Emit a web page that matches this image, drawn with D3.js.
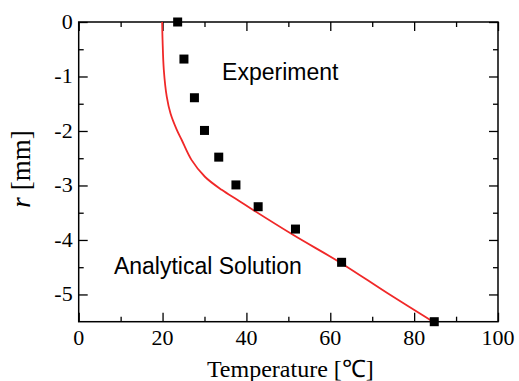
<!DOCTYPE html>
<html>
<head>
<meta charset="utf-8">
<script src="https://cdn.jsdelivr.net/npm/d3@7"></script>
<style>
  body { margin: 0; background: #fff; }
  .tick-label { font-family: 'Liberation Serif', 'Times New Roman', serif; font-size: 22px; }
  .note { font-family: 'Liberation Sans', Arial, sans-serif; font-size: 23px; }
</style>
</head>
<body>
<div id="chart"></div>
<script>
// experiment points
let expTemp = [23.6, 25.1, 27.6, 30.0, 33.4, 37.5, 42.8, 51.7, 62.7, 84.8]
let expR = [0, -0.68, -1.39, -1.99, -2.48, -2.99, -3.39, -3.8, -4.41, -5.5]

// analytical solution
let anaTemp = [19.9, 20.0, 20.3, 21.0, 21.9, 23.4, 24.6, 26.9, 30.1, 34.1, 38.0, 41.6, 51.2, 62.7, 73.5, 84.5]
let anaR = [0, -0.33, -0.88, -1.37, -1.68, -1.98, -2.17, -2.53, -2.84, -3.08, -3.27, -3.45, -3.91, -4.43, -4.97, -5.5]

let xTicks = [0, 20, 40, 60, 80, 100]
let yTicks = [0, -1, -2, -3, -4, -5]

let margin = { top: 22, left: 78.7, right: 21, bottom: 59.3 }
let width = 519 - margin.left - margin.right
let height = 381 - margin.top - margin.bottom

let svg = d3
  .select('#chart')
  .append('svg')
  .attr('width', 519)
  .attr('height', 381)
  .append('g')
  .attr('transform', 'translate(' + margin.left + ',' + margin.top + ')')

let xPositionScale = d3.scaleLinear().domain([0, 100]).range([0, width])
let yPositionScale = d3.scaleLinear().domain([0, -5.5]).range([0, height])

let major = 9
let minor = 5

function styleAxis(g) {
  g.select('.domain').remove()
  g.selectAll('line').attr('stroke', '#000').attr('stroke-width', 1.3)
  g.selectAll('text').remove()
}

let xMinor = d3.range(10, 100, 20)
let yMinor = d3.range(-0.5, -5.5, -1)

// bottom + top ticks (inward)
svg.append('g').attr('transform', 'translate(0,' + height + ')')
  .call(d3.axisBottom(xPositionScale).tickValues(xTicks).tickSizeInner(-major).tickSizeOuter(0)).call(styleAxis)
svg.append('g').attr('transform', 'translate(0,' + height + ')')
  .call(d3.axisBottom(xPositionScale).tickValues(xMinor).tickSizeInner(-minor).tickSizeOuter(0)).call(styleAxis)
svg.append('g')
  .call(d3.axisTop(xPositionScale).tickValues(xTicks).tickSizeInner(-major).tickSizeOuter(0)).call(styleAxis)
svg.append('g')
  .call(d3.axisTop(xPositionScale).tickValues(xMinor).tickSizeInner(-minor).tickSizeOuter(0)).call(styleAxis)

// left + right ticks (inward)
svg.append('g')
  .call(d3.axisLeft(yPositionScale).tickValues(yTicks).tickSizeInner(-major).tickSizeOuter(0)).call(styleAxis)
svg.append('g')
  .call(d3.axisLeft(yPositionScale).tickValues(yMinor).tickSizeInner(-minor).tickSizeOuter(0)).call(styleAxis)
svg.append('g').attr('transform', 'translate(' + width + ',0)')
  .call(d3.axisRight(yPositionScale).tickValues(yTicks).tickSizeInner(-major).tickSizeOuter(0)).call(styleAxis)
svg.append('g').attr('transform', 'translate(' + width + ',0)')
  .call(d3.axisRight(yPositionScale).tickValues(yMinor).tickSizeInner(-minor).tickSizeOuter(0)).call(styleAxis)

// frame
svg.append('rect')
  .attr('width', width)
  .attr('height', height)
  .attr('fill', 'none')
  .attr('stroke', '#000')
  .attr('stroke-width', 1.5)

// tick labels
svg.selectAll('.x-label')
  .data(xTicks)
  .enter()
  .append('text')
  .attr('class', 'tick-label')
  .attr('x', d => xPositionScale(d))
  .attr('y', height + 23)
  .attr('text-anchor', 'middle')
  .text(d => d)

svg.selectAll('.y-label')
  .data(yTicks)
  .enter()
  .append('text')
  .attr('class', 'tick-label')
  .attr('x', -6)
  .attr('y', d => yPositionScale(d))
  .attr('dy', 7)
  .attr('text-anchor', 'end')
  .text(d => d)

// axis titles
svg.append('text')
  .attr('class', 'tick-label')
  .attr('x', width / 2 + 2)
  .attr('y', height + 55)
  .attr('text-anchor', 'middle')
  .style('font-size', '24px')
  .text('Temperature [℃]')

let yTitle = svg.append('text')
  .attr('class', 'tick-label')
  .attr('transform', 'translate(' + (-49) + ',' + 147 + ') rotate(-90)')
  .attr('text-anchor', 'middle')
  .style('font-size', '27px')
yTitle.append('tspan').style('font-style', 'italic').text('r')
yTitle.append('tspan').text(' [mm]')

// analytical curve
let anaData = anaTemp.map((t, i) => ({ temp: t, r: anaR[i] }))
let line = d3.line()
  .x(d => xPositionScale(d.temp))
  .y(d => yPositionScale(d.r))
  .curve(d3.curveCatmullRom.alpha(0.5))

svg.append('path')
  .datum(anaData)
  .attr('d', line)
  .attr('fill', 'none')
  .attr('stroke', '#f02828')
  .attr('stroke-width', 1.8)

// experiment squares
let sq = 9
svg.selectAll('.exp')
  .data(expTemp.map((t, i) => ({ temp: t, r: expR[i] })))
  .enter()
  .append('rect')
  .attr('x', d => xPositionScale(d.temp) - sq / 2)
  .attr('y', d => yPositionScale(d.r) - sq / 2)
  .attr('width', sq)
  .attr('height', sq)
  .attr('fill', '#000')

// labels
svg.append('text')
  .attr('class', 'note')
  .attr('x', xPositionScale(34.2))
  .attr('y', 58)
  .text('Experiment')

svg.append('text')
  .attr('class', 'note')
  .attr('x', xPositionScale(8.4))
  .attr('y', 251.5)
  .text('Analytical Solution')
</script>
</body>
</html>
